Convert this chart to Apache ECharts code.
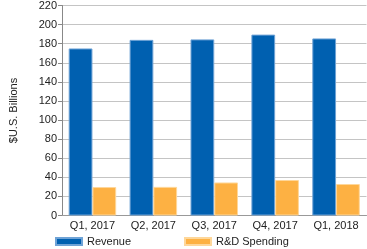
<!DOCTYPE html>
<html><head><meta charset="utf-8">
<script src="https://cdn.jsdelivr.net/npm/echarts@6/dist/echarts.min.js"></script>
<style>html,body{margin:0;padding:0;background:#fff}#c{width:367px;height:249px}</style>
</head><body><div id="c"></div>
<script>
const categories = ["Q1, 2017", "Q2, 2017", "Q3, 2017", "Q4, 2017", "Q1, 2018"];
const revenue = [175, 184, 184.5, 189.5, 185.5];
const rdSpending = [29.8, 30, 34.6, 37.2, 33];
const yTicks = {min: 0, max: 220, interval: 20};
const yTitle = "$U.S. Billions";

const chart = echarts.init(document.getElementById('c'), null, {renderer: 'canvas'});
const font = 'Liberation Sans, Arial, Helvetica, sans-serif';
chart.setOption({
  animation: false,
  textStyle: {fontFamily: font},
  grid: {left: 53.5, right: 0.5, top: 5.5, bottom: 33.5, containLabel: false},
  legend: [
    {data: ['Revenue'], left: 55, top: 236, padding: 0, itemWidth: 26, itemHeight: 7, icon: 'rect',
     textStyle: {fontSize: 11, color: '#222', fontFamily: font}},
    {data: ['R&D Spending'], left: 184, top: 236, padding: 0, itemWidth: 26, itemHeight: 7, icon: 'rect',
     textStyle: {fontSize: 11, color: '#222', fontFamily: font}}
  ],
  xAxis: {
    type: 'category', data: categories,
    axisLine: {show: true, lineStyle: {color: '#999', width: 1}},
    axisTick: {show: false},
    axisLabel: {fontSize: 11, color: '#222', margin: 5, fontFamily: font}
  },
  yAxis: {
    type: 'value', min: yTicks.min, max: yTicks.max, interval: yTicks.interval,
    name: yTitle, nameLocation: 'middle', nameGap: 43, nameRotate: 90,
    nameTextStyle: {fontSize: 11, color: '#222', fontFamily: font},
    axisLine: {show: true, lineStyle: {color: '#888', width: 1}},
    axisTick: {show: true, length: 4, lineStyle: {color: '#888'}},
    axisLabel: {fontSize: 11, color: '#222', margin: 5, fontFamily: font},
    splitLine: {show: true, lineStyle: {color: '#c4c4c4', width: 1}}
  },
  series: [
    {name: 'Revenue', type: 'bar', data: revenue, barGap: '0%', barCategoryGap: '22%',
     itemStyle: {color: '#0060b0', borderColor: '#6fa3d6', borderWidth: 1}},
    {name: 'R&D Spending', type: 'bar', data: rdSpending,
     itemStyle: {color: '#fdb143', borderColor: '#fed79a', borderWidth: 1}}
  ]
});
</script></body></html>
